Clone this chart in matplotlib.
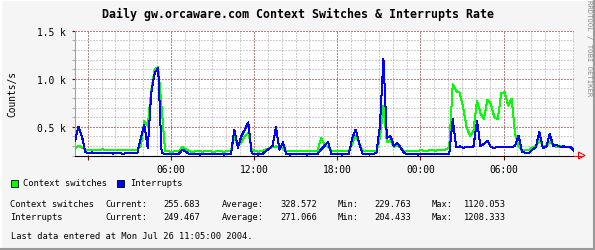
import matplotlib
matplotlib.use("Agg")
import matplotlib.pyplot as plt
import matplotlib.dates as mdates
from matplotlib.lines import Line2D
from matplotlib.patches import Rectangle, Polygon
from matplotlib.ticker import MultipleLocator, FuncFormatter
import pandas as pd

# 15 minute samples, Sat 23:05 -> Mon 11:05
start = pd.Timestamp("2004-07-24 23:05")
end = pd.Timestamp("2004-07-26 11:05")
times = pd.date_range(start, end, freq="15min")

context_switches = [
    270, 303, 280, 262,
    258, 262, 256, 260, 264, 258, 255, 262, 258, 260, 256, 262, 258, 260, 262,
    300, 560, 510, 880, 1100, 1120, 700,
    245, 242, 240, 244, 243,
    290, 265,
    243, 240, 244, 242, 241, 245, 243, 240, 244, 242, 241, 243,
    245, 390, 300, 330, 400, 440, 260,
    243, 241, 244,
    262, 275, 290, 295, 285, 270, 248,
    250, 248, 251, 249, 252, 248, 250, 249, 252,
    380, 320, 290, 250,
    245, 247, 244, 246, 245,
    320, 407, 330, 250,
    243, 245, 244,
    250, 380, 720, 340, 360, 290, 310, 280, 245,
    250, 252, 249, 251, 253, 250, 252, 254, 251, 255, 258, 262, 285,
    940, 870, 855, 700, 500, 400, 460, 770, 640, 580, 780, 740, 600, 580,
    850, 860, 720, 790, 424, 300, 251, 255, 258, 285, 300, 360, 300, 290,
    340, 310, 290, 300, 285, 290, 280, 256,
]
interrupts = [
    350, 500, 400, 232,
    228, 232, 226, 224, 230, 222, 226, 220, 228, 224, 218, 226, 222, 225, 230,
    380, 520, 280, 850, 1060, 1110, 230,
    214, 212, 216, 213, 218,
    262, 240,
    215, 212, 214, 210, 213, 216, 211, 214, 212, 215, 210, 213,
    215, 470, 280, 400, 470, 545, 225,
    212, 210, 214,
    245, 270, 300, 494, 260, 338, 212,
    210, 214, 212, 211, 215, 210, 213, 212, 214,
    265, 300, 340, 215,
    212, 214, 210, 213, 215,
    380, 470, 330, 215,
    212, 210, 214,
    230, 510, 1209, 380, 407, 300, 330, 280, 225,
    215, 212, 214, 210, 213, 216, 211, 214, 212, 215, 213, 216, 217,
    580, 287, 295, 280, 290, 285, 295, 562, 300, 320, 355, 287, 280, 290,
    287, 285, 290, 285, 300, 407, 240, 228, 228, 260, 287, 448, 280, 290,
    424, 300, 310, 290, 295, 285, 290, 249,
]

series_names = ["Context switches", "Interrupts"]
series_colors = ["#00ff00", "#0000ff"]
current = [255.683, 249.467]
average = [328.572, 271.066]
minimum = [229.763, 204.433]
maximum = [1120.053, 1208.333]

title = "Daily gw.orcaware.com Context Switches & Interrupts Rate"
last_update = "Last data entered at Mon Jul 26 11:05:00 2004."

W, H = 595, 251
MONO = "DejaVu Sans Mono"
plt.rcParams["font.family"] = MONO


def fx(px):
    return px / W


def fy(py):
    return 1 - py / H


fig = plt.figure(figsize=(W / 100, H / 100), dpi=100, facecolor="#f5f5f5")
ax = fig.add_axes([fx(75), fy(156.5), (574 - 75) / W, (156.5 - 31.7) / H])
ax.set_facecolor("white")

for vals, col, z in zip([context_switches, interrupts], series_colors, [3, 4]):
    ax.plot(times, vals, color=col, lw=0.72, zorder=z, antialiased=False)

ax.set_xlim(start, end)
ax.set_ylim(200, 1500)

ax.xaxis.set_major_locator(mdates.HourLocator(byhour=[0, 6, 12, 18]))
ax.xaxis.set_minor_locator(mdates.HourLocator())
first_label = mdates.date2num(start + pd.Timedelta(hours=2))
ax.xaxis.set_major_formatter(FuncFormatter(
    lambda v, p: "" if v < first_label else mdates.num2date(v).strftime("%H:%M")))
ax.yaxis.set_major_locator(MultipleLocator(500))
ax.yaxis.set_minor_locator(MultipleLocator(100))
ax.yaxis.set_major_formatter(FuncFormatter(lambda v, p: f"{v / 1000:.1f} k"))

# rrdtool style dotted grid, snapped to whole pixels
dots = (0, (1, 2))
ax.grid(which="minor", color="#a0a0a0", ls=dots, lw=0.72, zorder=1, snap=True)
ax.grid(which="major", color="#800000", ls=dots, lw=0.72, zorder=2, snap=True)
ax.set_axisbelow(True)

for s in ["top", "right"]:
    ax.spines[s].set_visible(False)
ax.spines["left"].set_color("#a0a0a0")
ax.spines["left"].set_linewidth(0.8)
ax.spines["bottom"].set_color("black")
ax.spines["bottom"].set_linewidth(0.8)
ax.spines["bottom"].set_zorder(5)

ax.tick_params(axis="x", which="major", length=3, color="#800000", pad=3,
               labelsize=6.9)
ax.tick_params(axis="x", which="minor", length=0)
ax.tick_params(axis="y", which="major", length=2, color="#800000", pad=4.5,
               labelsize=6.9)
ax.tick_params(axis="y", which="minor", length=2, color="#a0a0a0")

# arrow at end of the time axis
fig.add_artist(Line2D([fx(574), fx(582)], [fy(156.5), fy(156.5)],
                      color="red", lw=0.8, transform=fig.transFigure))
fig.add_artist(Polygon([(fx(578.5), fy(153)), (fx(585), fy(156.5)),
                        (fx(578.5), fy(160))], closed=True, fill=False,
                       edgecolor="red", lw=0.8, transform=fig.transFigure))

fig.text(0.5, fy(14), title, ha="center", va="center", fontsize=8.4,
         weight="bold")
fig.text(fx(12.5), fy(94), "Counts/s", rotation=90, ha="center", va="center",
         fontsize=6.9)
fig.text(fx(589.5), fy(48), "RRDTOOL / TOBI OETIKER", rotation=-90,
         ha="center", va="center", fontsize=5.2, color="#8a8a8a")

# legend
for name, col, bx, tx in zip(series_names, series_colors, [11, 117], [22.7, 130]):
    fig.add_artist(Rectangle((fx(bx), fy(187.5)), 7 / W, 7 / H, facecolor=col,
                             edgecolor="black", lw=0.6, transform=fig.transFigure))
    fig.text(fx(tx), fy(184), name, ha="left", va="center", fontsize=6.3)

# statistics
col_x = [10.5, 105, 163, 222, 280, 338, 374, 432, 464]
for row, ry in enumerate([204.3, 217.3]):
    cells = [series_names[row], "Current:", f"{current[row]:.3f}",
             "Average:", f"{average[row]:.3f}", "Min:", f"{minimum[row]:.3f}",
             "Max:", f"{maximum[row]:.3f}"]
    for cx, txt in zip(col_x, cells):
        fig.text(fx(cx), fy(ry), txt, ha="left", va="center", fontsize=6.3)

fig.text(fx(11), fy(236.7), last_update, ha="left", va="center", fontsize=6.3)

# shaded frame
for xs, ys, c in [([0, 1], [fy(0.5), fy(0.5)], "white"),
                  ([fx(0.5), fx(0.5)], [0, 1], "white"),
                  ([0, 1], [fy(250), fy(250)], "#9a9a9a"),
                  ([fx(594), fx(594)], [0, 1], "#9a9a9a")]:
    fig.add_artist(Line2D(xs, ys, color=c, lw=1.5, transform=fig.transFigure))

fig.savefig("out.png", dpi=100, facecolor=fig.get_facecolor())
